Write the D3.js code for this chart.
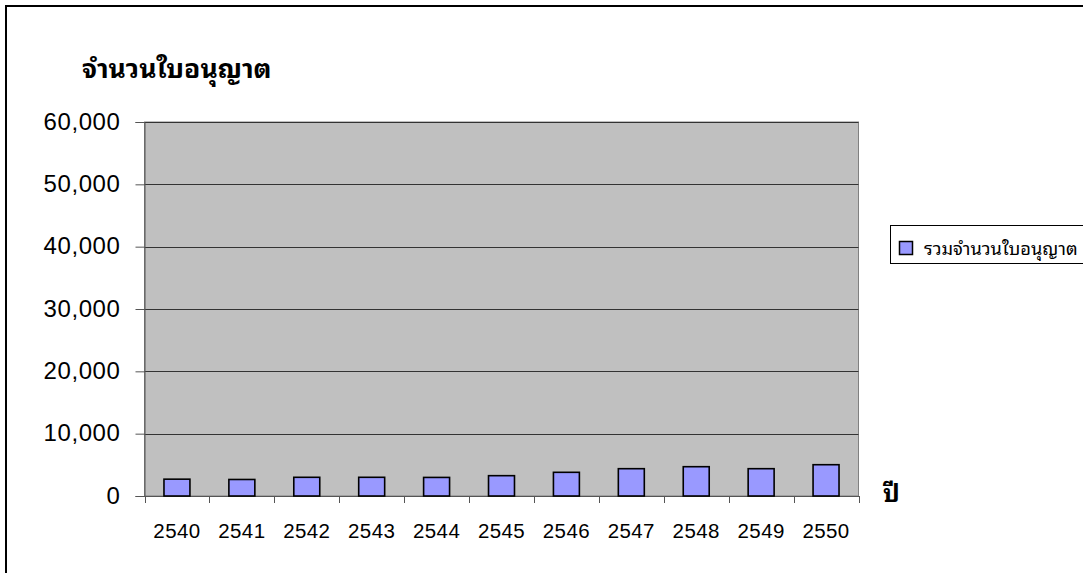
<!DOCTYPE html>
<html><head><meta charset="utf-8">
<script src="https://cdn.jsdelivr.net/npm/d3@7"></script>
<style>body{margin:0;background:#fff}svg{display:block}</style>
</head><body>
<svg id="c" width="1083" height="573"></svg>
<script>
const categories = ["2540","2541","2542","2543","2544","2545","2546","2547","2548","2549","2550"];
const values = [2700, 2650, 3000, 3000, 2980, 3260, 3800, 4380, 4700, 4380, 5020];
const yTicks = [0, 10000, 20000, 30000, 40000, 50000, 60000];
const seriesName = "รวมจำนวนใบอนุญาต";
const yTitle = "จำนวนใบอนุญาต";
const xTitle = "ปี";

const svg = d3.select("#c");
const thaiFont = "'Noto Sans Thai Looped', 'Noto Serif Thai', Loma, Garuda, Tahoma, 'Noto Sans Thai', 'Noto Sans', sans-serif";
const numFont = "Arial, 'Liberation Sans', sans-serif";
const m = {l:144.5, r:858.5, t:122, b:496};

svg.append("rect").attr("x",6).attr("y",6).attr("width",1090).attr("height",580)
  .attr("fill","#fff").attr("stroke","#000").attr("stroke-width",2);

const x = d3.scaleBand().domain(categories).range([m.l, m.r]).paddingInner(0.6).paddingOuter(0.3);
const y = d3.scaleLinear().domain([0, 60000]).range([m.b, m.t]);

svg.append("rect").attr("x",m.l).attr("y",m.t).attr("width",m.r-m.l).attr("height",m.b-m.t)
  .attr("fill","#c0c0c0").attr("stroke","#808080").attr("stroke-width",1);

svg.append("g").selectAll("line").data(yTicks.filter(d=>d>0)).join("line")
  .attr("x1",m.l).attr("x2",m.r).attr("y1",d=>Math.round(y(d))+0.5).attr("y2",d=>Math.round(y(d))+0.5)
  .attr("stroke","#333").attr("stroke-width",1);

// y axis
const ya = svg.append("g").attr("transform",`translate(${m.l},0)`)
  .call(d3.axisLeft(y).tickValues(yTicks).tickSize(9).tickPadding(15).tickFormat(d3.format(",")));
ya.select(".domain").attr("stroke","#555");
ya.selectAll(".tick line").attr("stroke","#555");
ya.selectAll("text").attr("font-family",numFont).attr("font-size",24)
  .attr("letter-spacing","0.6px").attr("fill","#000").attr("dy","0.3em");

// x axis
const xa = svg.append("g").attr("transform",`translate(0,${m.b})`)
  .call(d3.axisBottom(x).tickSize(0).tickPadding(27));
xa.select(".domain").attr("stroke","#555");
xa.selectAll("text").attr("font-family",numFont).attr("font-size",20.5)
  .attr("letter-spacing","0.4px").attr("fill","#000").attr("dy","0.71em");
svg.append("g").selectAll("line").data(d3.range(categories.length+1)).join("line")
  .attr("x1",i=>Math.round(m.l + i*(m.r-m.l)/categories.length)+0.5)
  .attr("x2",i=>Math.round(m.l + i*(m.r-m.l)/categories.length)+0.5)
  .attr("y1",m.b).attr("y2",m.b+7).attr("stroke","#555");

// bars
svg.append("g").selectAll("rect").data(values).join("rect")
  .attr("x",(d,i)=>x(categories[i])).attr("y",d=>y(d))
  .attr("width",x.bandwidth()).attr("height",d=>m.b-y(d))
  .attr("fill","#9999ff").attr("stroke","#000").attr("stroke-width",1.6);

// titles
svg.append("text").attr("x",82).attr("y",78).text(yTitle)
  .attr("font-family",thaiFont).attr("font-size",26.5).attr("font-weight","bold");
svg.append("text").attr("x",883).attr("y",502).text(xTitle)
  .attr("font-family",thaiFont).attr("font-size",25).attr("font-weight","bold");

// legend
svg.append("rect").attr("x",890.5).attr("y",225.5).attr("width",200).attr("height",38)
  .attr("fill","#fff").attr("stroke","#000");
svg.append("rect").attr("x",899.5).attr("y",241.5).attr("width",13).attr("height",13)
  .attr("fill","#9999ff").attr("stroke","#000").attr("stroke-width",1.5);
svg.append("text").attr("x",924).attr("y",255).text(seriesName)
  .attr("font-family",thaiFont).attr("font-size",18.3);
</script>
</body></html>
